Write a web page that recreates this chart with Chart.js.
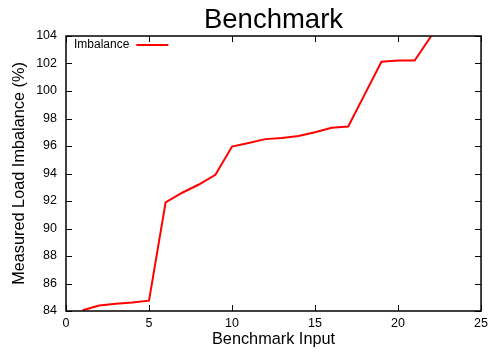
<!DOCTYPE html>
<html>
<head>
<meta charset="utf-8">
<script src="https://cdn.jsdelivr.net/npm/chart.js@4"></script>
<style>
  html, body { margin: 0; padding: 0; background: #fff; }
  #wrap { width: 493px; height: 353px; }
</style>
</head>
<body>
<div id="wrap"><canvas id="chart" width="493" height="353"></canvas></div>
<script>
// benchmark inputs and the measured load imbalance for each
const inputs = [1, 2, 3, 4, 5, 6, 7, 8, 9, 10, 11, 12, 13, 14, 15, 16, 17, 18, 19, 20, 21, 22];
const imbalance = [84.05, 84.4, 84.52, 84.62, 84.75, 91.9, 92.6, 93.2, 93.9, 95.96, 96.22, 96.5, 96.58,
                   96.73, 97.0, 97.33, 97.42, 99.77, 102.13, 102.22, 102.22, 104.0];
const xTicks = [0, 5, 10, 15, 20, 25];
const yTicks = [84, 86, 88, 90, 92, 94, 96, 98, 100, 102, 104];

const FONT = "'Liberation Sans', Arial, sans-serif";
const TITLE = 'Benchmark';

// gnuplot style frame: box around the plot with ticks pointing inward on all four sides
const framePlugin = {
    id: 'frame',
    afterDraw(chart) {
        const ctx = chart.ctx;
        const a = chart.chartArea;
        const xs = chart.scales.x;
        const ys = chart.scales.y;
        const len = 6;
        ctx.save();
        ctx.strokeStyle = '#000';
        ctx.lineWidth = 1.5;
        ctx.strokeRect(a.left, a.top, a.right - a.left, a.bottom - a.top);
        ctx.lineWidth = 1;
        ctx.beginPath();
        xs.ticks.forEach(t => {
            const px = Math.round(xs.getPixelForValue(t.value)) + 0.5;
            ctx.moveTo(px, a.bottom); ctx.lineTo(px, a.bottom - len);
            ctx.moveTo(px, a.top); ctx.lineTo(px, a.top + len);
        });
        ys.ticks.forEach(t => {
            const py = Math.round(ys.getPixelForValue(t.value)) + 0.5;
            ctx.moveTo(a.left, py); ctx.lineTo(a.left + len, py);
            ctx.moveTo(a.right, py); ctx.lineTo(a.right - len, py);
        });
        ctx.stroke();

        // title centred over the plot box rather than the canvas
        ctx.fillStyle = '#000';
        ctx.font = '27.5px ' + FONT;
        ctx.textAlign = 'center';
        ctx.textBaseline = 'alphabetic';
        ctx.fillText(TITLE, (a.left + a.right) / 2, 28);

        // key in the top left corner: label first, then the line sample
        const ds = chart.data.datasets[0];
        ctx.font = '12px ' + FONT;
        ctx.textBaseline = 'middle';
        ctx.textAlign = 'left';
        const ky = a.top + 9;
        ctx.fillText(ds.label, a.left + 8, ky);
        const tw = ctx.measureText(ds.label).width;
        ctx.strokeStyle = ds.borderColor;
        ctx.lineWidth = ds.borderWidth;
        ctx.beginPath();
        ctx.moveTo(a.left + 8 + tw + 7, ky);
        ctx.lineTo(a.left + 8 + tw + 39, ky);
        ctx.stroke();
        ctx.restore();
    }
};

new Chart(document.getElementById('chart'), {
    type: 'line',
    data: {
        datasets: [{
            label: 'Imbalance',
            data: inputs.map((x, i) => ({ x: x, y: imbalance[i] })),
            borderColor: '#ff0000',
            borderWidth: 2,
            pointRadius: 0,
            tension: 0,
            fill: false
        }]
    },
    options: {
        responsive: false,
        animation: false,
        layout: { padding: { left: 0, right: 9, top: 36, bottom: 0 } },
        plugins: {
            legend: { display: false },
            tooltip: { enabled: false },
            title: { display: false }
        },
        scales: {
            x: {
                type: 'linear',
                min: 0,
                max: 25,
                afterBuildTicks: s => { s.ticks = xTicks.map(v => ({ value: v })); },
                afterFit: s => { s.height = 42; },
                grid: { drawOnChartArea: false, drawTicks: false },
                border: { display: false },
                ticks: { color: '#000', padding: 5, font: { family: FONT, size: 12.5 } },
                title: {
                    display: true,
                    text: 'Benchmark Input',
                    color: '#000',
                    font: { family: FONT, size: 16.3 },
                    padding: { top: 0, bottom: 4 }
                }
            },
            y: {
                min: 84,
                max: 104,
                afterBuildTicks: s => { s.ticks = yTicks.map(v => ({ value: v })); },
                afterFit: s => { s.width = 66; },
                grid: { drawOnChartArea: false, drawTicks: false },
                border: { display: false },
                ticks: { color: '#000', padding: 9, font: { family: FONT, size: 12.5 } },
                title: {
                    display: true,
                    text: 'Measured Load Imbalance (%)',
                    color: '#000',
                    font: { family: FONT, size: 16.3 },
                    padding: { top: 10, bottom: 0 }
                }
            }
        }
    },
    plugins: [framePlugin]
});
</script>
</body>
</html>
